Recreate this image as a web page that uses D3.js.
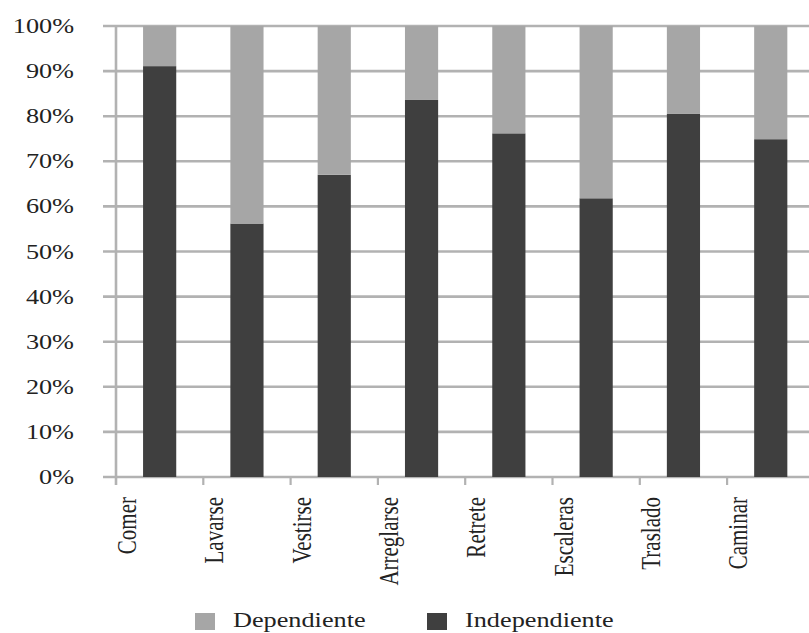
<!DOCTYPE html>
<html>
<head>
<meta charset="utf-8">
<script src="https://cdn.jsdelivr.net/npm/d3@7"></script>
<style>
  html, body { margin: 0; padding: 0; background: #fff; }
  svg { display: block; }
  text { font-family: "Liberation Serif", "DejaVu Serif", serif; fill: #222; }
</style>
</head>
<body>
<svg id="chart" width="809" height="633"></svg>
<script>
// Actividades de la vida diaria: porcentaje de pacientes independientes / dependientes
const categories = ["Comer", "Lavarse", "Vestirse", "Arreglarse", "Retrete", "Escaleras", "Traslado", "Caminar"];
const independiente = [91.1, 56.2, 67.0, 83.6, 76.2, 61.8, 80.5, 74.9];
const dependiente = independiente.map(v => 100 - v);
const yTicks = [0, 10, 20, 30, 40, 50, 60, 70, 80, 90, 100];
const seriesNames = ["Dependiente", "Independiente"];
const seriesColors = ["#a6a6a6", "#3f3f3f"];

const svg = d3.select("#chart");
const plotLeft = 116, plotTop = 26, plotBottom = 477;
const slot = 87.3;
const plotRight = plotLeft + slot * categories.length;

const y = d3.scaleLinear().domain([0, 100]).range([plotBottom, plotTop]);
const x = d3.scaleBand().domain(categories).range([plotLeft, plotRight])
  .paddingInner(0.62).paddingOuter(0.31);
const step = x.step();
const slotStart = c => x(c) - step * 0.31;

// horizontal gridlines, extended left as tick marks
svg.append("g").selectAll("line").data(yTicks).join("line")
  .attr("x1", plotLeft - 13).attr("x2", plotRight)
  .attr("y1", d => y(d)).attr("y2", d => y(d))
  .attr("stroke", "#b2b2b2").attr("stroke-width", 2.6);

// vertical axis line
svg.append("line")
  .attr("x1", plotLeft).attr("x2", plotLeft)
  .attr("y1", y(100)).attr("y2", plotBottom + 8)
  .attr("stroke", "#b2b2b2").attr("stroke-width", 2.6);

// category boundary ticks below the baseline
svg.append("g").selectAll("line").data(categories.slice(1)).join("line")
  .attr("x1", d => slotStart(d)).attr("x2", d => slotStart(d))
  .attr("y1", plotBottom).attr("y2", plotBottom + 8)
  .attr("stroke", "#b2b2b2").attr("stroke-width", 2.2);

// y tick labels
svg.append("g").selectAll("text").data(yTicks).join("text")
  .attr("transform", d => `translate(74,${y(d) + 7}) scale(1.25,1)`)
  .attr("text-anchor", "end")
  .style("font-size", "21px")
  .text(d => d + "%");

// stacked bars
const stackData = categories.map((c, i) => ({ cat: c, Independiente: independiente[i], Dependiente: dependiente[i] }));
const stack = d3.stack().keys(["Independiente", "Dependiente"])(stackData);
const color = d3.scaleOrdinal().domain(seriesNames).range(seriesColors);

svg.append("g").selectAll("g").data(stack).join("g")
  .attr("fill", s => color(s.key))
  .selectAll("rect").data(s => s).join("rect")
  .attr("x", d => x(d.data.cat))
  .attr("width", x.bandwidth())
  .attr("y", d => y(d[1]))
  .attr("height", d => y(d[0]) - y(d[1]));

// rotated category labels
svg.append("g").selectAll("text").data(categories).join("text")
  .attr("transform", d => `translate(${slotStart(d) + 20},497) scale(1.25,1) rotate(-90)`)
  .attr("text-anchor", "end")
  .style("font-size", "21px")
  .text(d => d);

// legend
const legendX = [195, 427];
const legend = svg.append("g").selectAll("g").data(seriesNames).join("g")
  .attr("transform", (d, i) => `translate(${legendX[i]},0)`);
legend.append("rect")
  .attr("x", 0).attr("y", 613).attr("width", 20).attr("height", 17)
  .attr("fill", d => color(d));
legend.append("text")
  .attr("transform", "translate(38,627) scale(1.25,1)")
  .style("font-size", "21px")
  .text(d => d);
</script>
</body>
</html>
